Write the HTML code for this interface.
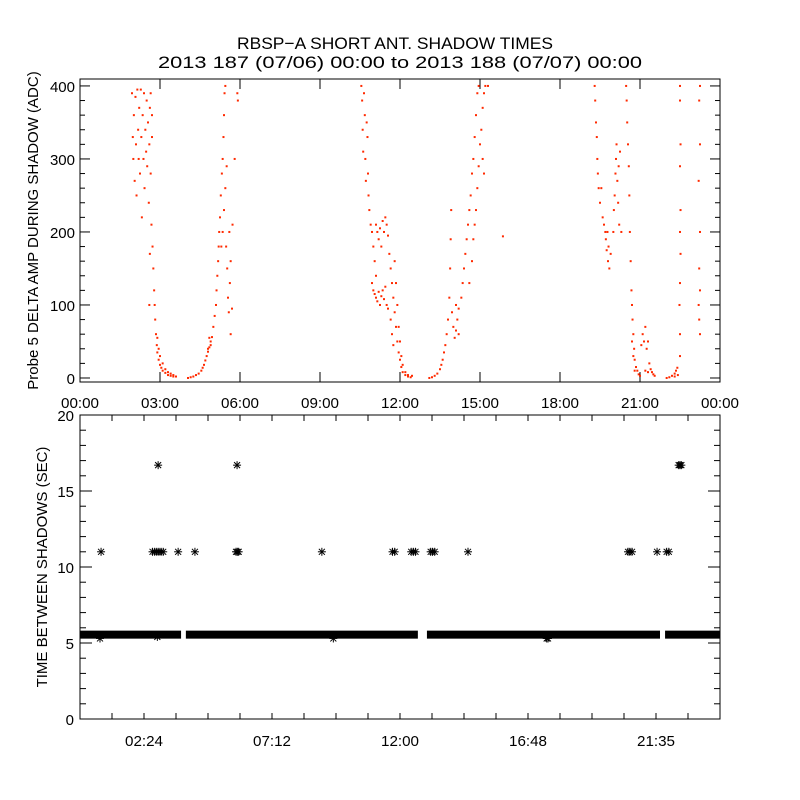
<!DOCTYPE html>
<html><head><meta charset="utf-8"><style>
html,body{margin:0;padding:0;background:#fff;}
svg{display:block;font-family:"Liberation Sans",sans-serif;}
</style></head><body>
<svg id="chart" width="800" height="800" viewBox="0 0 800 800">
<rect width="800" height="800" fill="#fff"/>
<text x="237" y="49" font-size="17" textLength="316" lengthAdjust="spacingAndGlyphs">RBSP−A SHORT ANT. SHADOW TIMES</text>
<text x="158" y="68" font-size="17" textLength="484" lengthAdjust="spacingAndGlyphs">2013 187 (07/06) 00:00 to 2013 188 (07/07) 00:00</text>
<g id="topPanel"></g>
<g id="botPanel"></g>
</svg>
<script>
// ---- data ----
const topTickLabels = ["00:00","03:00","06:00","09:00","12:00","15:00","18:00","21:00","00:00"];
const topYTicks = [0,100,200,300,400];
const botTickLabels = ["02:24","07:12","12:00","16:48","21:35"];
const botYTicks = [0,5,10,15,20];
const pass1 = [[1.95,390],[1.98,330],[2.0,300],[2.02,360],[2.05,270],[2.08,385],[2.1,320],[2.12,250],[2.15,395],[2.18,340],[2.2,300],[2.22,370],[2.25,280],[2.28,395],[2.3,330],[2.32,220],[2.35,360],[2.38,300],[2.4,390],[2.42,260],[2.45,340],[2.48,310],[2.5,380],[2.52,290],[2.55,350],[2.58,240],[2.6,320],[2.62,370],[2.65,280],[2.68,210],[2.7,330],[2.72,180],[2.75,150],[2.78,120],[2.8,100],[2.82,80],[2.85,60],[2.88,45],[2.9,35],[2.95,25],[3.0,18],[3.05,14],[3.1,10],[3.2,7],[3.3,4],[3.4,3],[3.5,2],[3.6,2],[2.9,55],[2.95,40],[3.0,30],[3.1,20],[3.2,12],[3.3,8],[3.4,6],[3.5,4],[2.6,100],[2.62,170],[2.7,360],[2.65,390],
[4.05,0],[4.15,1],[4.25,2],[4.35,4],[4.45,6],[4.55,10],[4.6,14],[4.65,18],[4.7,24],[4.75,30],[4.8,36],[4.85,42],[4.9,50],[4.95,56],[4.8,40],[4.85,55],[4.9,45],[5.0,70],[5.05,85],[5.1,100],[5.12,120],[5.15,140],[5.18,160],[5.2,180],[5.22,200],[5.25,220],[5.28,250],[5.3,180],[5.32,280],[5.35,300],[5.38,330],[5.4,360],[5.42,390],[5.45,400],[5.35,200],[5.4,230],[5.45,260],[5.5,290],[5.48,180],[5.52,150],[5.55,110],[5.58,90],[5.6,200],[5.62,130],[5.65,160],[5.65,60],[5.7,95],[5.72,210],[5.8,300],[5.9,390],[5.92,380]];
const pass2 = [[10.55,400],[10.58,380],[10.6,340],[10.62,310],[10.65,390],[10.68,360],[10.7,300],[10.72,270],[10.75,350],[10.78,330],[10.8,280],[10.82,250],[10.85,230],[10.9,210],[10.95,200],[11.0,180],[11.05,160],[11.1,140],[10.95,130],[11.0,120],[11.05,115],[11.1,110],[11.15,105],[11.2,118],[11.25,100],[11.3,112],[11.35,120],[11.4,108],[11.45,125],[11.5,100],[11.55,95],[11.1,210],[11.15,200],[11.2,190],[11.25,205],[11.3,180],[11.35,215],[11.4,200],[11.45,220],[11.5,210],[11.55,195],[11.6,170],[11.65,150],[11.7,130],[11.75,110],[11.8,90],[11.85,70],[11.9,50],[11.95,35],[12.0,25],[12.05,15],[12.1,8],[12.2,4],[12.3,2],[12.4,1],[11.8,160],[11.85,130],[11.9,100],[11.95,70],[12.0,50],[12.05,30],[12.1,18],[12.2,8],[12.3,4],[12.45,3],[11.7,60],[11.75,45],[11.65,80],
[13.1,0],[13.2,1],[13.3,3],[13.4,6],[13.5,12],[13.55,18],[13.6,25],[13.65,35],[13.7,45],[13.75,60],[13.8,80],[13.85,110],[13.88,150],[13.9,190],[13.92,230],[13.95,90],[14.0,70],[14.05,55],[14.1,65],[14.15,80],[14.2,60],[14.1,100],[14.2,95],[14.3,110],[14.35,130],[14.4,150],[14.45,170],[14.5,190],[14.55,210],[14.6,230],[14.65,250],[14.7,280],[14.75,300],[14.8,330],[14.85,360],[14.9,390],[14.95,400],[14.6,130],[14.7,160],[14.75,190],[14.8,210],[14.85,230],[14.9,260],[14.95,290],[15.0,320],[15.05,340],[15.1,370],[15.15,390],[15.2,400],[15.1,300],[15.15,280],[15.3,400],[15.86,194]];
const pass3 = [[19.3,400],[19.32,380],[19.35,350],[19.38,330],[19.4,300],[19.42,280],[19.45,260],[19.5,240],[19.55,260],[19.6,220],[19.65,210],[19.7,200],[19.72,190],[19.75,175],[19.78,200],[19.8,160],[19.82,180],[19.85,150],[19.9,170],[20.0,200],[20.02,230],[20.05,250],[20.08,280],[20.1,300],[20.12,320],[20.15,270],[20.18,240],[20.2,290],[20.22,210],[20.25,310],[20.3,200],[20.48,400],[20.5,380],[20.52,350],[20.55,320],[20.58,290],[20.6,250],[20.62,200],[20.65,160],[20.68,120],[20.7,100],[20.72,80],[20.75,60],[20.78,40],[20.8,25],[20.85,15],[20.9,10],[20.95,5],[21.0,3],[20.7,50],[20.75,30],[20.8,10],[21.05,45],[21.1,60],[21.15,50],[21.2,70],[21.25,40],[21.3,50],[21.35,20],[21.4,12],[21.45,8],[21.5,5],[21.55,3],[21.2,10],[21.3,8],
[22.0,0],[22.1,1],[22.2,3],[22.3,6],[22.35,10],[22.4,14],[22.42,4],[22.3,2],
[22.5,400],[22.5,380],[22.52,320],[22.5,290],[22.52,230],[22.5,200],[22.52,170],[22.5,130],[22.48,100],[22.5,60],[22.5,30],[23.25,400],[23.22,380],[23.25,320],[23.2,270],[23.25,200],[23.22,150],[23.25,120],[23.2,100],[23.22,80],[23.25,60]];
const bandSegStart = [0, 3.97, 13.01, 21.94];
const bandSegEnd = [3.79, 12.67, 21.75, 24];
const bandValue = 5.55;
const starHours = [0.79,2.72,2.8,2.88,2.96,3.04,3.12,3.68,4.31,5.85,5.9,5.95,9.07,11.72,11.8,12.42,12.5,12.58,13.15,13.22,13.3,14.55,20.55,20.62,20.7,21.64,22.0,22.08,2.93,5.89,22.45,22.5,22.55,0.75,9.5,17.5,17.55,2.9];
const starValues = [11,11,11,11,11,11,11,11,11,11,11,11,11,11,11,11,11,11,11,11,11,11,11,11,11,11,11,11,16.7,16.7,16.7,16.7,16.7,5.3,5.3,5.3,5.3,5.4];

// ---- axes ----
const NS="http://www.w3.org/2000/svg";
function mk(tag,attrs,parent){const e=document.createElementNS(NS,tag);for(const k in attrs)e.setAttribute(k,attrs[k]);parent.appendChild(e);return e;}
const TP={x0:80,x1:720,y0:79,y1:382,vmin:-5.5,vmax:409.5};
const BP={x0:80,x1:720,y0:415,y1:719,vmin:0,vmax:20};
const tx=h=>TP.x0+h/24*(TP.x1-TP.x0);
const ty=v=>TP.y1-(v-TP.vmin)/(TP.vmax-TP.vmin)*(TP.y1-TP.y0);
const bx=h=>BP.x0+h/24*(BP.x1-BP.x0);
const by=v=>BP.y1-(v-BP.vmin)/(BP.vmax-BP.vmin)*(BP.y1-BP.y0);
const topG=document.getElementById('topPanel'), botG=document.getElementById('botPanel');

let fr=mk('rect',{x:TP.x0,y:TP.y0,width:TP.x1-TP.x0,height:TP.y1-TP.y0,fill:'none',stroke:'#000','stroke-width':1},topG);


for(let v=0;v<=400;v+=20){const maj=v%100===0;const L=maj?10:5;
 mk('line',{x1:TP.x0,x2:TP.x0+L,y1:ty(v),y2:ty(v),stroke:'#000'},topG);
 mk('line',{x1:TP.x1,x2:TP.x1-L,y1:ty(v),y2:ty(v),stroke:'#000'},topG);}
topYTicks.forEach(v=>{const t=mk('text',{x:TP.x0-5,y:ty(v)+6,'font-size':15,'text-anchor':'end'},topG);t.textContent=v;
 
 });
topTickLabels.forEach((s,i)=>{const h=i*3;
 mk('line',{x1:tx(h),x2:tx(h),y1:TP.y1,y2:TP.y1-10,stroke:'#000'},topG);
 mk('line',{x1:tx(h),x2:tx(h),y1:TP.y0,y2:TP.y0+10,stroke:'#000'},topG);
 const t=mk('text',{x:tx(h)-19,y:408,'font-size':15,textLength:38,lengthAdjust:'spacingAndGlyphs'},topG);t.textContent=s;
 
 });
let yt=mk('text',{x:0,y:0,'font-size':15,'text-anchor':'middle',transform:`translate(38,${(TP.y0+TP.y1)/2}) rotate(-90)`},topG);
yt.textContent='Probe 5 DELTA AMP DURING SHADOW (ADC)';


[pass1,pass2,pass3].forEach((arr,pi)=>arr.forEach(p=>{
 const r=mk('rect',{x:tx(p[0])-1,y:ty(p[1])-1,width:2,height:2,fill:'#ff2a00'},topG);
 
 }));

fr=mk('rect',{x:BP.x0,y:BP.y0,width:BP.x1-BP.x0,height:BP.y1-BP.y0,fill:'none',stroke:'#000'},botG);


for(let v=0;v<=20;v++){const L=v%5===0?12:6;
 mk('line',{x1:BP.x0,x2:BP.x0+L,y1:by(v),y2:by(v),stroke:'#000'},botG);
 mk('line',{x1:BP.x1,x2:BP.x1-L,y1:by(v),y2:by(v),stroke:'#000'},botG);}
botYTicks.forEach(v=>{const t=mk('text',{x:BP.x0-6,y:by(v)+6,'font-size':15,'text-anchor':'end'},botG);t.textContent=v;
 
 });
for(let h=1.2;h<24;h+=1.2){
 mk('line',{x1:bx(h),x2:bx(h),y1:BP.y1,y2:BP.y1-6,stroke:'#000'},botG);
 mk('line',{x1:bx(h),x2:bx(h),y1:BP.y0,y2:BP.y0+6,stroke:'#000'},botG);}
botTickLabels.forEach((s,i)=>{const h=2.4+i*4.8;
 const t=mk('text',{x:bx(h)-19,y:746,'font-size':15,textLength:38,lengthAdjust:'spacingAndGlyphs'},botG);t.textContent=s;
 
 });
yt=mk('text',{x:0,y:0,'font-size':15,'text-anchor':'middle',transform:`translate(47,${(BP.y0+BP.y1)/2}) rotate(-90)`},botG);
yt.textContent='TIME BETWEEN SHADOWS (SEC)';


bandSegStart.forEach((s,i)=>{
 const r=mk('rect',{x:bx(s),y:by(bandValue)-4,width:bx(bandSegEnd[i])-bx(s),height:8,fill:'#000'},botG);
 
 });
starHours.forEach((h,i)=>{const cx=bx(h),cy=by(starValues[i]);
 const g=mk('g',{stroke:'#000','stroke-width':1},botG);
 
 
 mk('line',{x1:cx-4,x2:cx+4,y1:cy,y2:cy},g);
 mk('line',{x1:cx,x2:cx,y1:cy-4,y2:cy+4},g);
 mk('line',{x1:cx-3,x2:cx+3,y1:cy-3,y2:cy+3},g);
 mk('line',{x1:cx-3,x2:cx+3,y1:cy+3,y2:cy-3},g);});
</script>
</body></html>
